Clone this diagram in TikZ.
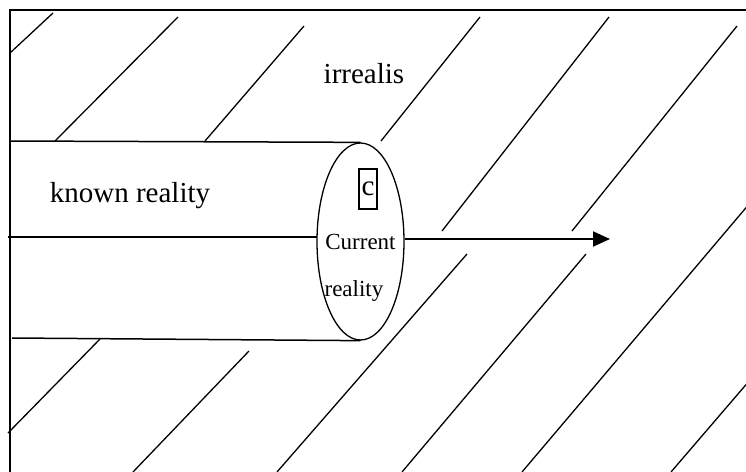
\documentclass[tikz,border=0pt]{standalone}
\usepackage{fontspec}
\setmainfont{Liberation Serif}
\usetikzlibrary{arrows.meta,shapes.geometric}

\begin{document}
\begin{tikzpicture}[
  x=0.5pt,
  y=-0.5pt,
  frame/.style={line width=1pt},
  tube/.style={line width=0.75pt},
  hatch/.style={line width=0.65pt},
  fwd/.style={-{Triangle[length=8.5pt,width=7.5pt]}, line width=1pt},
  lbl/.style={font=\fontsize{14.5}{16}\selectfont, anchor=base, inner sep=0pt},
  small/.style={font=\fontsize{11.5}{13}\selectfont, anchor=base, inner sep=0pt},
  endcap/.style={ellipse, draw, line width=0.65pt, minimum width=43.5pt, minimum height=98.5pt, inner sep=0pt}
]
\useasboundingbox (0,0) rectangle (746,472);
\clip (0,0) rectangle (746,472);
\fill[white] (0,0) rectangle (746,472);

% outer frame (runs off the page at right and bottom)
\draw[frame] (10,10) rectangle (780,500);

% hatching for the irrealis region
\draw[hatch] (10,53) -- (53,13);
\draw[hatch] (55,141) -- (178,17);
\draw[hatch] (205,141) -- (304,26);
\draw[hatch] (381,141) -- (480,17);
\draw[hatch] (442,231) -- (609,17);
\draw[hatch] (572,231) -- (737,26);
\draw[hatch] (750,203) -- (522,472);
\draw[hatch] (750,380) -- (671,472);
\draw[hatch] (100,339) -- (8,433);
\draw[hatch] (249,351) -- (133,472);
\draw[hatch] (467,254) -- (277,472);
\draw[hatch] (586,254) -- (402,472);

% the tube of known reality and its end
\node[endcap] (cur) at (360.5,241.5) {};
\coordinate (tl) at (10,141);
\coordinate (ml) at (8,237);
\coordinate (mr) at (317,237);
\coordinate (bl) at (12,338);
\draw[tube] (tl) -- (cur.north);
\draw[tube] (ml) -- (mr);
\draw[tube] (bl) -- (cur.south);

% labels
\node[lbl] (irr) at (364,83) {irrealis};
\node[lbl] (known) at (130,202) {known reality};
\node[draw, line width=0.75pt, minimum width=9pt, minimum height=20pt, inner sep=0pt,
      font=\fontsize{14.5}{16}\selectfont] (c) at (368,189) {c};
\node[small] (cr1) at (360.5,249) {Current};
\node[small] (cr2) at (354,296) {reality};

% forward direction
\coordinate (ahead) at (610,239);
\draw[fwd] (cur.east |- ahead) -- (ahead);
\end{tikzpicture}
\end{document}
